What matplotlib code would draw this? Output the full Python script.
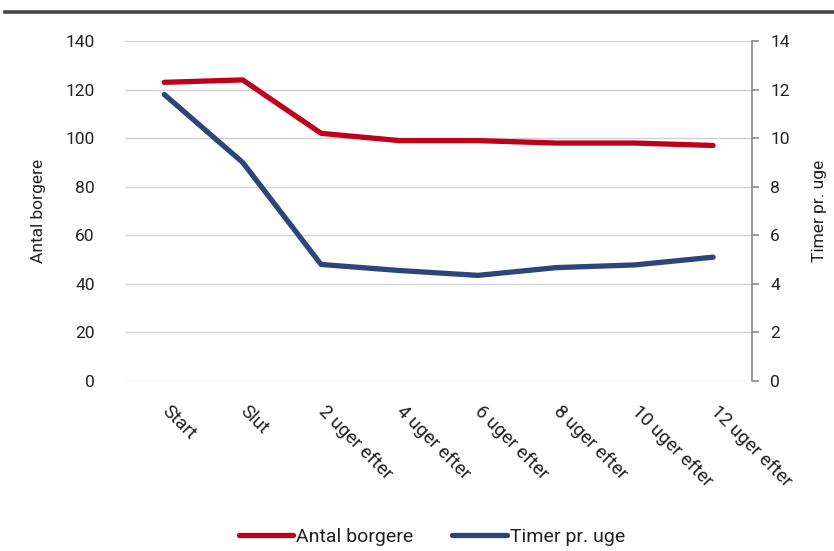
import matplotlib.pyplot as plt
from matplotlib.lines import Line2D

plt.rcParams['font.family'] = ['Roboto', 'DejaVu Sans']

# data
perioder = ['Start', 'Slut', '2 uger efter', '4 uger efter', '6 uger efter',
            '8 uger efter', '10 uger efter', '12 uger efter']
antal_borgere = [123, 124, 102, 99, 99, 98, 98, 97]
timer_pr_uge = [11.8, 9.0, 4.8, 4.55, 4.35, 4.67, 4.78, 5.1]

rod = '#C0001A'
blaa = '#2C467A'
tekst = '#222222'

fig = plt.figure(figsize=(8.34, 5.51), dpi=100)
ax = fig.add_axes([0.150, 0.3085, 0.752, 0.617])
ax2 = ax.twinx()

x = list(range(len(perioder)))
ax.plot(x, antal_borgere, color=rod, lw=3.8, solid_capstyle='round', zorder=3)
ax2.plot(x, timer_pr_uge, color=blaa, lw=3.8, solid_capstyle='round', zorder=3)

ax.set_xlim(-0.5, len(perioder) - 0.5)
ax.set_ylim(0, 140)
ax.set_yticks(range(0, 141, 20))
ax2.set_ylim(0, 14)
ax2.set_yticks(range(0, 15, 2))

ax.grid(axis='y', color='#d0d0d0', lw=1.0)
ax.set_axisbelow(True)

for s in ['top', 'left', 'bottom', 'right']:
    ax.spines[s].set_visible(False)
for s in ['top', 'left', 'bottom']:
    ax2.spines[s].set_visible(False)
ax2.spines['right'].set_color('#8a8a8a')
ax2.spines['right'].set_linewidth(1.2)

ax.tick_params(axis='y', length=0, pad=22, labelsize=12.5, labelcolor=tekst)
ax2.tick_params(axis='y', length=5, width=1.2, color='#8a8a8a', pad=8,
                labelsize=12.5, labelcolor=tekst)
ax.tick_params(axis='x', length=0, pad=20)

ax.set_xticks(x)
ax.set_xticklabels(perioder, rotation=-45, ha='left', va='center',
                   rotation_mode='anchor', fontsize=13.5, color=tekst)

ax.set_ylabel('Antal borgere', fontsize=12.5, color=tekst, labelpad=14)
ax2.set_ylabel('Timer pr. uge', fontsize=12.5, color=tekst, labelpad=16,
               rotation=90)

handles = [Line2D([], [], color=rod, lw=3.8, solid_capstyle='round'),
           Line2D([], [], color=blaa, lw=3.8, solid_capstyle='round')]
fig.legend(handles, ['Antal borgere', 'Timer pr. uge'], loc='center',
           bbox_to_anchor=(0.518, 0.025), ncol=2, frameon=False, fontsize=14,
           handlelength=2.8, handletextpad=0.15, columnspacing=2.0,
           labelcolor=tekst)

# dark rule across the top
fig.add_artist(Line2D([0.006, 1.0], [0.978, 0.978], color='#444444', lw=2.6,
                      transform=fig.transFigure))

fig.savefig('out.png', dpi=100)
